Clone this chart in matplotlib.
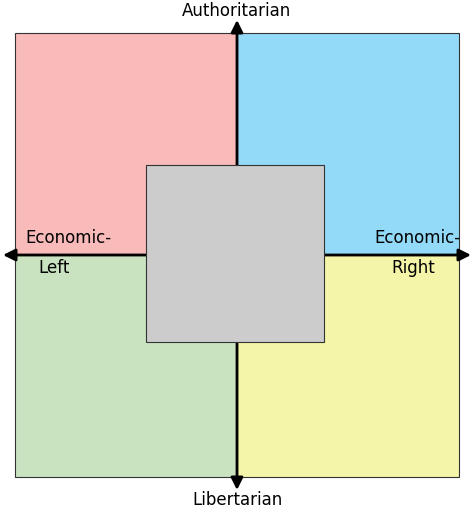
import matplotlib.pyplot as plt
from matplotlib.patches import Rectangle

# quadrant extents in compass units (-10..10)
quadrants = ['auth_left', 'auth_right', 'lib_left', 'lib_right']
quad_x = [-10, 0, -10, 0]
quad_y = [0, 0, -10, -10]
quad_colors = ['#f9baba', '#93d9f8', '#c9e3c0', '#f5f5a9']
centre_size = 8
axis_labels = ['Authoritarian', 'Libertarian', 'Economic-\nLeft', 'Economic-\nRight']

fig = plt.figure(figsize=(4.74, 5.15), dpi=100)
ax = fig.add_axes([0, 0, 1, 1])
# map pixels: square 15..459 wide (444px = 20 units)
s = 444 / 20
ax.set_xlim(-237 / s, (474 - 237) / s)
ax.set_ylim(-(515 - 255) / s, 255 / s)
ax.axis('off')

for qx, qy, c in zip(quad_x, quad_y, quad_colors):
    ax.add_patch(Rectangle((qx, qy), 10, 10, facecolor=c, edgecolor='#333333', lw=0.8))
ax.add_patch(Rectangle((-centre_size / 2 - 0.08, -centre_size / 2 + 0.06), centre_size, centre_size,
                       facecolor='#cccccc', edgecolor='#333333', lw=0.8, zorder=3))

arrow = dict(arrowstyle='<|-|>', color='black', lw=2, mutation_scale=18, shrinkA=0, shrinkB=0)
ax.annotate('', xy=(-234 / s, 0), xytext=(234 / s, 0), arrowprops=arrow, zorder=2)
ax.annotate('', xy=(0, 235 / s), xytext=(0, -235 / s), arrowprops=arrow, zorder=2)

fs = 12
ax.text(0, 244 / s, axis_labels[0], ha='center', va='center', fontsize=fs)
ax.text(0, -245 / s, axis_labels[1], ha='center', va='center', fontsize=fs)
ax.text(-212 / s, 17 / s, 'Economic-', ha='left', va='center', fontsize=fs)
ax.text(-199 / s, -13 / s, 'Left', ha='left', va='center', fontsize=fs)
ax.text(224 / s, 17 / s, 'Economic-', ha='right', va='center', fontsize=fs)
ax.text(198 / s, -13 / s, 'Right', ha='right', va='center', fontsize=fs)

fig.savefig('out.png', dpi=100)
